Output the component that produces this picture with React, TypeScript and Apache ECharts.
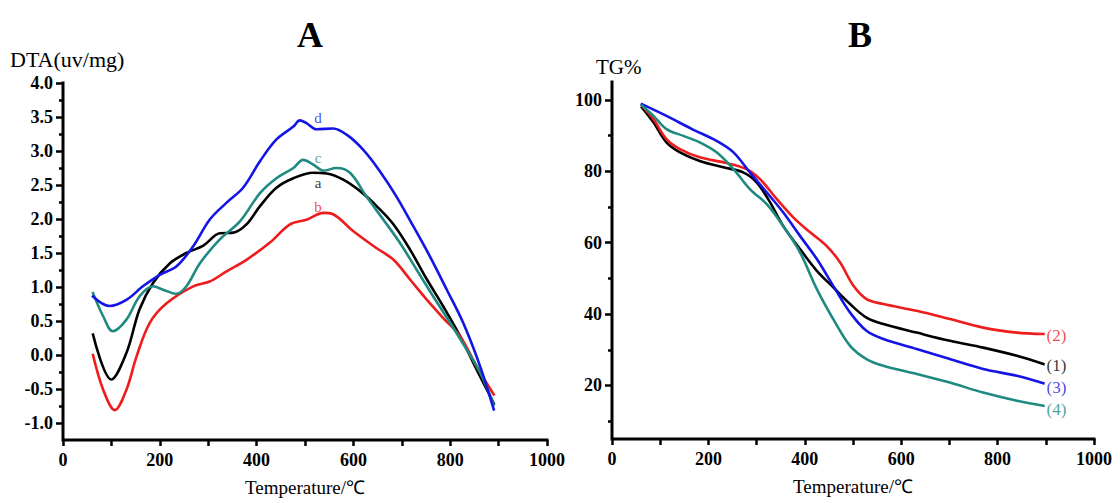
import React, { useEffect, useRef } from "react";
import * as echarts from "echarts";

// ---------- axis ranges & tick values ----------
const tempMin = 0;
const tempMax = 1000;
const dtaMin = -1.25;
const dtaMax = 4;
const tgMin = 5;
const tgMax = 105;
const xTickLabels = [0, 200, 400, 600, 800, 1000];
const dtaTickLabels = [-1, -0.5, 0, 0.5, 1, 1.5, 2, 2.5, 3, 3.5, 4];
const dtaMinorTicks = [-0.75, -0.25, 0.25, 0.75, 1.25, 1.75, 2.25, 2.75, 3.25, 3.75];
const tgTickLabels = [20, 40, 60, 80, 100];
const tgMinorTicks = [10, 30, 50, 70, 90];

// ---------- Panel A: DTA ----------
const tempA = [62, 100, 131, 158, 186, 221, 255, 290, 324, 352, 379, 407, 441, 476, 517, 545, 579, 614, 648, 683, 717, 752, 786, 821, 855, 890];
const dtaA = [0.30, -0.36, 0.03, 0.67, 1.06, 1.35, 1.50, 1.61, 1.79, 1.80, 1.92, 2.19, 2.46, 2.60, 2.68, 2.67, 2.58, 2.41, 2.19, 1.92, 1.55, 1.11, 0.71, 0.27, -0.22, -0.71];

const tempB = [62, 83, 107, 131, 152, 179, 214, 269, 303, 338, 379, 427, 469, 503, 538, 558, 600, 648, 683, 717, 752, 786, 821, 855, 890];
const dtaB = [0.00, -0.51, -0.81, -0.51, -0.02, 0.47, 0.76, 1.01, 1.08, 1.23, 1.40, 1.65, 1.92, 1.99, 2.09, 2.07, 1.82, 1.57, 1.40, 1.11, 0.81, 0.54, 0.27, -0.17, -0.58];

const tempC = [62, 83, 103, 131, 158, 186, 207, 234, 255, 283, 324, 365, 407, 441, 476, 496, 517, 538, 565, 593, 627, 662, 696, 731, 765, 800, 834, 862, 890];
const dtaC = [0.91, 0.57, 0.35, 0.52, 0.86, 1.01, 0.96, 0.90, 1.01, 1.35, 1.70, 1.96, 2.38, 2.60, 2.75, 2.87, 2.80, 2.71, 2.75, 2.68, 2.33, 1.99, 1.65, 1.25, 0.86, 0.47, 0.08, -0.26, -0.73];

const tempD = [62, 96, 131, 165, 200, 234, 269, 303, 338, 372, 407, 441, 476, 489, 503, 524, 558, 586, 620, 655, 689, 724, 758, 793, 827, 862, 890];
const dtaD = [0.86, 0.72, 0.81, 1.01, 1.18, 1.30, 1.60, 1.99, 2.24, 2.46, 2.85, 3.17, 3.36, 3.45, 3.41, 3.32, 3.33, 3.24, 3.02, 2.70, 2.33, 1.89, 1.45, 0.96, 0.47, -0.17, -0.80];

const dtaNames = ["a", "b", "c", "d"];
const dtaLabelTemp = [527, 527, 527, 527];
const dtaLabelValue = [2.53, 2.18, 2.89, 3.49];

// ---------- Panel B: TG ----------
const tg1Temp = [62, 86, 113, 141, 182, 231, 272, 300, 328, 355, 390, 425, 459, 494, 528, 563, 632, 701, 770, 840, 895];
const tg1 = [97.9, 93.7, 88.1, 85.3, 82.9, 81.1, 79.7, 76.9, 71.3, 64.7, 58.2, 52.1, 47.5, 42.8, 39.0, 37.2, 34.8, 32.5, 30.6, 28.3, 26.0];

const tg2Temp = [62, 86, 113, 141, 182, 238, 279, 307, 342, 376, 411, 445, 473, 501, 528, 563, 632, 701, 770, 840, 895];
const tg2 = [98.4, 94.6, 89.0, 86.2, 83.9, 82.3, 80.6, 77.8, 72.2, 67.1, 62.9, 59.1, 54.5, 47.9, 44.2, 42.8, 40.9, 38.6, 36.2, 34.8, 34.4];

const tg3Temp = [62, 113, 166, 217, 252, 286, 321, 355, 390, 425, 459, 494, 528, 563, 632, 701, 770, 840, 895];
const tg3 = [98.8, 95.5, 91.8, 88.5, 85.3, 79.7, 74.1, 68.5, 61.9, 55.4, 47.9, 40.4, 35.3, 33.0, 30.2, 27.4, 24.6, 22.7, 20.6];

const tg4Temp = [62, 86, 113, 148, 182, 217, 252, 286, 321, 355, 390, 425, 459, 494, 528, 563, 632, 701, 770, 840, 895];
const tg4 = [98.4, 95.5, 91.8, 89.9, 88.1, 85.3, 80.6, 75.0, 70.8, 64.7, 57.3, 47.0, 38.6, 31.1, 27.4, 25.5, 23.2, 20.8, 18.0, 15.7, 14.3];

const tgNames = ["(1)", "(2)", "(3)", "(4)"];
const tgLabelTemp = [922, 922, 922, 922];
const tgLabelValue = [25.7, 34.1, 19.5, 13.4];

const BLACK = "#000000";
const RED = "#ee1c1c";
const BLUE = "#1414e6";
const TEAL = "#1f8a82";
const FONT = "Liberation Serif";

const zip = (xs: number[], ys: number[]) => xs.map((x, i) => [x, ys[i]]);

export default function App() {
  const ref = useRef<HTMLDivElement>(null);

  useEffect(() => {
    if (!ref.current) return;
    const chart = echarts.init(ref.current, undefined, { renderer: "svg" });

    const mkTickLabel = () => ({ show: true, color: "#000000", fontFamily: FONT, fontWeight: "bold" as const, fontSize: 18 });
    const mkTickStyle = () => ({ color: "#000000", width: 2.5, type: "solid" });

    const xAxisBase = (gridIndex: number) => ({
      type: "value" as const,
      gridIndex,
      position: "bottom" as const,
      min: tempMin,
      max: tempMax,
      interval: 100,
      name: "Temperature/℃",
      nameLocation: "middle" as const,
      nameGap: 38,
      nameTextStyle: { color: "#000", fontFamily: FONT, fontSize: 19 },
      axisLine: { show: false, onZero: false },
      axisTick: { show: true, length: 6, lineStyle: mkTickStyle() },
      axisLabel: { ...mkTickLabel(), margin: 11, customValues: xTickLabels, formatter: (v: number) => String(v) },
      splitLine: { show: false },
    });

    const lineSeries = (name: string, data: number[][], color: string, xi: number, yi: number, width = 2.6, smooth: number | boolean = 0.35) => ({
      type: "line" as const,
      name,
      data,
      xAxisIndex: xi,
      yAxisIndex: yi,
      smooth,
      showSymbol: false,
      symbol: "none",
      clip: false,
      lineStyle: { color, width, join: "miter" as const, cap: "square" as const },
      silent: true,
    });

    // left + bottom axis frame, drawn through the axes' own scales
    const frameSeries = (xi: number, yi: number, yMin: number, yMax: number) =>
      lineSeries("frame", [[tempMin, yMax], [tempMin, yMin], [tempMax, yMin]], BLACK, xi, yi, 3, false);

    const labelSeries = (names: string[], xs: number[], ys: number[], colors: string[], xi: number, yi: number, size: number) => ({
      type: "scatter" as const,
      xAxisIndex: xi,
      yAxisIndex: yi,
      symbolSize: 0,
      silent: true,
      data: names.map((n, i) => ({
        value: [xs[i], ys[i]],
        label: {
          show: true,
          position: "inside" as const,
          formatter: n,
          color: colors[i],
          fontFamily: FONT,
          fontSize: size,
        },
      })),
    });

    const yMain = (gridIndex: number, min: number, max: number, ticks: number[], fmt: (v: number) => string) => ({
      type: "value" as const,
      gridIndex,
      position: "left" as const,
      min,
      max,
      axisLine: { show: false, onZero: false },
      axisTick: { show: true, length: 7, customValues: ticks, lineStyle: mkTickStyle() },
      axisLabel: { ...mkTickLabel(), margin: 10, customValues: ticks, formatter: fmt },
      splitLine: { show: false },
    });
    const yMinor = (gridIndex: number, min: number, max: number, ticks: number[]) => ({
      type: "value" as const,
      gridIndex,
      position: "left" as const,
      min,
      max,
      axisLine: { show: false, onZero: false },
      axisTick: { show: true, length: 4, customValues: ticks, lineStyle: mkTickStyle() },
      axisLabel: { show: false },
      splitLine: { show: false },
    });

    chart.setOption({
      animation: false,
      backgroundColor: "#ffffff",
      title: [
        { text: "A", left: 305, top: 12, textAlign: "center", textStyle: { fontFamily: FONT, fontWeight: "bold", fontSize: 36, color: "#000" } },
        { text: "B", left: 855, top: 12, textAlign: "center", textStyle: { fontFamily: FONT, fontWeight: "bold", fontSize: 36, color: "#000" } },
        { text: "DTA(uv/mg)", left: 10, top: 48, padding: 0, textStyle: { fontFamily: FONT, fontWeight: "normal", fontSize: 22, color: "#000" } },
        { text: "TG%", left: 596, top: 56, padding: 0, textStyle: { fontFamily: FONT, fontWeight: "normal", fontSize: 21, color: "#000" } },
      ],
      grid: [
        { left: 63, top: 83, width: 484, height: 357 },
        { left: 612, top: 82, width: 482, height: 357 },
      ],
      xAxis: [xAxisBase(0), xAxisBase(1)],
      yAxis: [
        yMain(0, dtaMin, dtaMax, dtaTickLabels, (v: number) => v.toFixed(1)),
        yMinor(0, dtaMin, dtaMax, dtaMinorTicks),
        yMain(1, tgMin, tgMax, tgTickLabels, (v: number) => String(v)),
        yMinor(1, tgMin, tgMax, tgMinorTicks),
      ],
      series: [
        frameSeries(0, 0, dtaMin, dtaMax),
        lineSeries("a", zip(tempA, dtaA), BLACK, 0, 0),
        lineSeries("b", zip(tempB, dtaB), RED, 0, 0),
        lineSeries("c", zip(tempC, dtaC), TEAL, 0, 0),
        lineSeries("d", zip(tempD, dtaD), BLUE, 0, 0),
        labelSeries(dtaNames, dtaLabelTemp, dtaLabelValue, [BLACK, RED, TEAL, BLUE], 0, 0, 15),
        frameSeries(1, 2, tgMin, tgMax),
        lineSeries("(1)", zip(tg1Temp, tg1), BLACK, 1, 2),
        lineSeries("(2)", zip(tg2Temp, tg2), RED, 1, 2),
        lineSeries("(3)", zip(tg3Temp, tg3), BLUE, 1, 2),
        lineSeries("(4)", zip(tg4Temp, tg4), TEAL, 1, 2),
        labelSeries(tgNames, tgLabelTemp, tgLabelValue, [BLACK, RED, BLUE, TEAL], 1, 2, 17),
      ],
    });

    return () => chart.dispose();
  }, []);

  return (
    <div
      ref={ref}
      style={{ position: "absolute", left: 0, top: 0, width: 1120, height: 503, background: "#fff" }}
    />
  );
}
